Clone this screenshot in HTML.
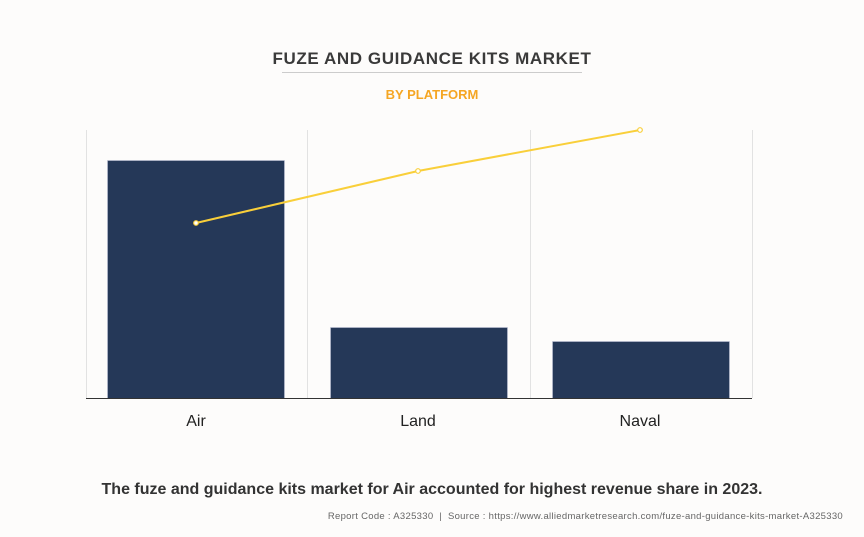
<!DOCTYPE html>
<html><head><style>
body{margin:0;background:#fdfcfb;width:864px;height:537px;overflow:hidden;font-family:"Liberation Sans",Arial,sans-serif}
</style></head><body>
<svg width="864" height="537" xmlns="http://www.w3.org/2000/svg" style="position:absolute;left:0;top:0">
<rect width="864" height="537" fill="#fdfcfb"/>
<text x="432" y="64" text-anchor="middle" font-family="Liberation Sans,Arial,sans-serif" font-weight="bold" font-size="17" letter-spacing="0.6" fill="#3a3a3a">FUZE AND GUIDANCE KITS MARKET</text>
<line x1="282" y1="72.5" x2="582" y2="72.5" stroke="#cccccc" stroke-width="1"/>
<text x="432" y="99" text-anchor="middle" font-family="Liberation Sans,Arial,sans-serif" font-weight="bold" font-size="13" fill="#f5a623">BY PLATFORM</text>
<g stroke="#e2e2e2" stroke-width="1">
<line x1="86.5" y1="130" x2="86.5" y2="398"/>
<line x1="307.5" y1="130" x2="307.5" y2="398"/>
<line x1="530.5" y1="130" x2="530.5" y2="398"/>
<line x1="752.5" y1="130" x2="752.5" y2="398"/>
</g>
<g fill="#253858" stroke="#b8bed0" stroke-width="0.7">
<rect x="107.5" y="160.5" width="177" height="238"/>
<rect x="330.5" y="327.5" width="177" height="71"/>
<rect x="552.5" y="341.5" width="177" height="57"/>
</g>
<line x1="86" y1="398.5" x2="752" y2="398.5" stroke="#333" stroke-width="1"/>
<polyline points="196,223 418,171 640,130" fill="none" stroke="#f9cf3a" stroke-width="2"/>
<g fill="#fff" stroke="#f9cf3a" stroke-width="1.2">
<circle cx="196" cy="223" r="2.3"/><circle cx="418" cy="171" r="2.3"/><circle cx="640" cy="130" r="2.3"/>
</g>
<g font-family="Liberation Sans,Arial,sans-serif" font-size="16" fill="#222" text-anchor="middle">
<text x="196" y="426">Air</text><text x="418" y="426">Land</text><text x="640" y="426">Naval</text>
</g>
<text x="432" y="494" text-anchor="middle" font-family="Liberation Sans,Arial,sans-serif" font-weight="bold" font-size="16" fill="#333">The fuze and guidance kits market for Air accounted for highest revenue share in 2023.</text>
<text x="843" y="519" text-anchor="end" font-family="Liberation Sans,Arial,sans-serif" font-size="9.5" letter-spacing="0.3" fill="#666" xml:space="preserve">Report Code : A325330  |  Source : https://www.alliedmarketresearch.com/fuze-and-guidance-kits-market-A325330</text>
</svg>
</body></html>
